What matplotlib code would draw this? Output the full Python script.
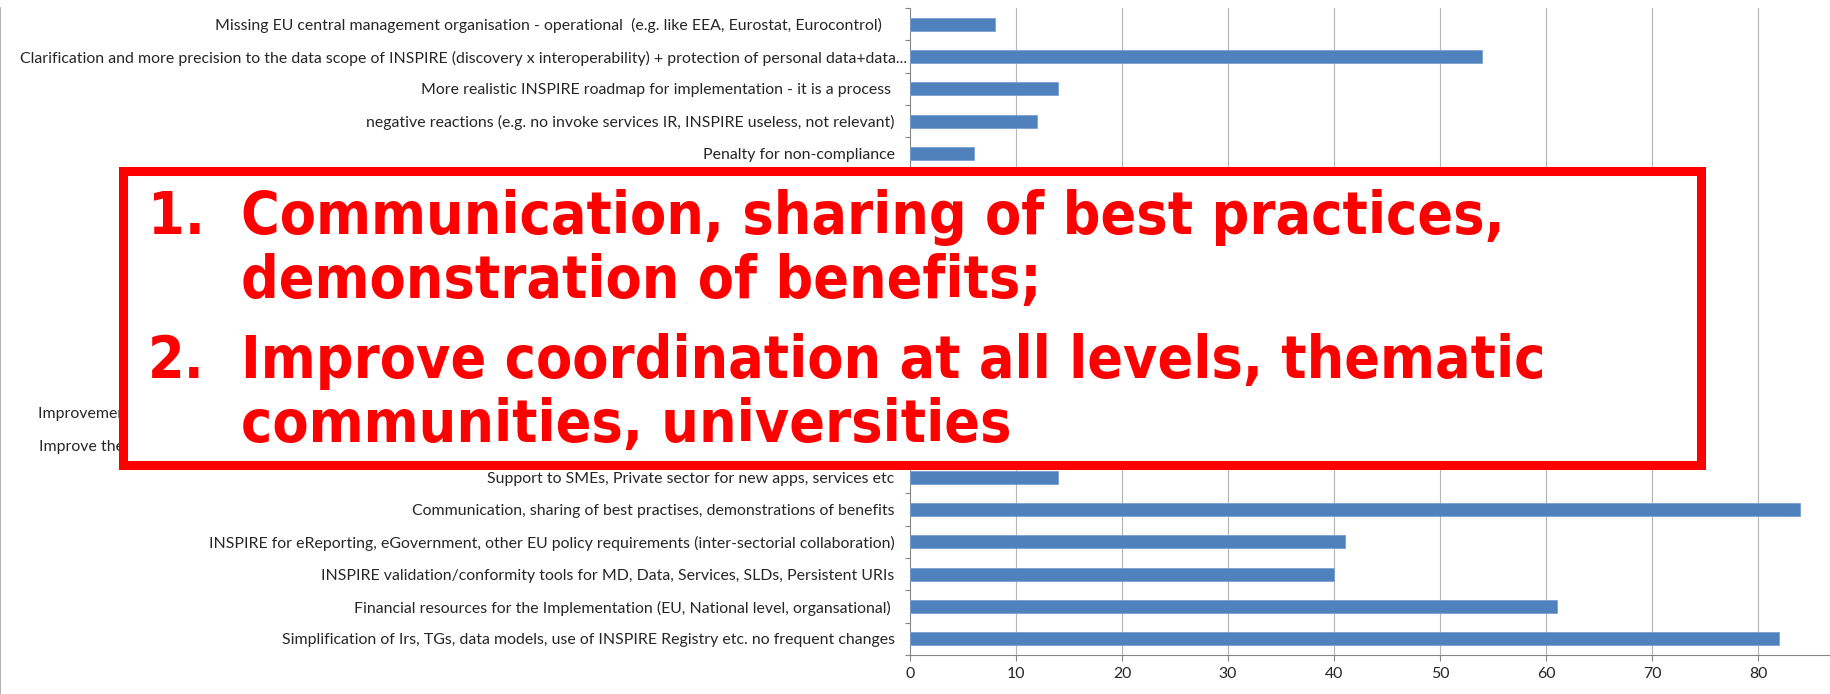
import numpy as np
import matplotlib
matplotlib.use("Agg")
import matplotlib.pyplot as plt
import matplotlib.transforms as mtransforms
from matplotlib import font_manager as fm
from matplotlib.patches import Rectangle

# Categories, listed from top to bottom as in the chart
categories = [
    "Missing EU central management organisation - operational  (e.g. like EEA, Eurostat, Eurocontrol)   ",
    "Clarification and more precision to the data scope of INSPIRE (discovery x interoperability) + protection of personal data+data...",
    "More realistic INSPIRE roadmap for implementation - it is a process ",
    "negative reactions (e.g. no invoke services IR, INSPIRE useless, not relevant)",
    "Penalty for non-compliance",
    "Better guidance and training for data providers",
    "Capacity building, training, e-learning",
    "More user-friendly tools and software support",
    "Priority setting of data themes and services",
    "Better cross-border harmonisation of data",
    "Open data policy and free access to data",
    "Feedback from users and use cases",
    "Improvement of INSPIRE Geoportal, discovery and view services, user-friendly tools for data users incl. citizens, businesses",
    "Improve the coordination and cooperation at all levels (national, regional, local), thematic communities, universities, experts",
    "Support to SMEs, Private sector for new apps, services etc",
    "Communication, sharing of best practises, demonstrations of benefits",
    "INSPIRE for eReporting, eGovernment, other EU policy requirements (inter-sectorial collaboration)",
    "INSPIRE validation/conformity tools for MD, Data, Services, SLDs, Persistent URIs",
    "Financial resources for the Implementation (EU, National level, organsational) ",
    "Simplification of Irs, TGs, data models, use of INSPIRE Registry etc. no frequent changes",
]
# rows 5..13 are covered by the red box in the reference, their values are estimates
counts = [8, 54, 14, 12, 6, 20, 9, 27, 16, 33, 11, 24, 47, 69, 14, 84, 41, 40, 61, 82]
xticks = [0, 10, 20, 30, 40, 50, 60, 70, 80]

box_lines = [
    ("1.", "Communication, sharing of best practices,"),
    ("", "demonstration of benefits;"),
    ("2.", "Improve coordination at all levels, thematic"),
    ("", "communities, universities"),
]

W, H = 1831, 694
fig = plt.figure(figsize=(W / 100, H / 100), dpi=100)
ax = fig.add_axes([910 / W, (H - 655) / H, (1829 - 910) / W, (655 - 8) / H])

y = np.arange(len(categories))
ax.barh(y, counts, height=0.4, color="#4F81BD", edgecolor="#7b9fcf", linewidth=0.6, zorder=3)

ax.set_ylim(len(categories) - 0.5, -0.5)
ax.set_xlim(0, 86.7)

axis_col = "#868686"
ax.set_xticks(xticks)
ax.set_xticklabels([str(v) for v in xticks])
ax.set_yticks(y)
ax.set_yticklabels(categories)
ax.set_yticks(np.arange(-0.5, len(categories)), minor=True)
ax.tick_params(axis="y", which="major", length=0, pad=11)
ax.tick_params(axis="y", which="minor", length=3.6, color=axis_col, width=0.8)
ax.tick_params(axis="x", which="major", length=4.3, color=axis_col, width=0.8, pad=4.5)

for lab in ax.get_yticklabels() + ax.get_xticklabels():
    lab.set_fontfamily(["Lato", "DejaVu Sans"])
    lab.set_fontsize(11.4)
    lab.set_color("#262626")

# the truncated label sits closer to the axis in the reference
lab = ax.get_yticklabels()[1]
lab.set_transform(lab.get_transform() + mtransforms.ScaledTranslation(0.12, 0, fig.dpi_scale_trans))

for s in ["top", "right"]:
    ax.spines[s].set_visible(False)
for s in ["left", "bottom"]:
    ax.spines[s].set_color(axis_col)
    ax.spines[s].set_linewidth(0.8)

for v in xticks[1:]:
    ax.axvline(v, color="#b5b5b5", linewidth=0.8, zorder=1)

# outer chart border on the left
fig.add_artist(plt.Line2D([0.5 / W, 0.5 / W], [0, (H - 8) / H], color="#a6a6a6", linewidth=1.2,
                          transform=fig.transFigure))

# red call-out box
left, right, top, bottom = 123.5, 1701.5, 170.5, 464.5
fig.add_artist(Rectangle((left / W, (H - bottom) / H), (right - left) / W, (bottom - top) / H,
                         transform=fig.transFigure, facecolor="white", edgecolor="#ff0000",
                         linewidth=6.5, joinstyle="miter", zorder=5))

fp = fm.FontProperties(family="DejaVu Sans", weight="bold", stretch="condensed", size=42.3)
if "Condensed" not in fm.findfont(fp):
    fp = fm.FontProperties(family="Roboto", weight="bold", size=41.5)

baselines = [234, 298, 378, 442]
for (num, txt), b in zip(box_lines, baselines):
    if num:
        fig.text(148 / W, (H - b) / H, num, color="#ff0000", fontproperties=fp,
                 va="baseline", ha="left", zorder=6)
    fig.text(241 / W, (H - b) / H, txt, color="#ff0000", fontproperties=fp,
             va="baseline", ha="left", zorder=6)

fig.savefig("out.png", dpi=100)
